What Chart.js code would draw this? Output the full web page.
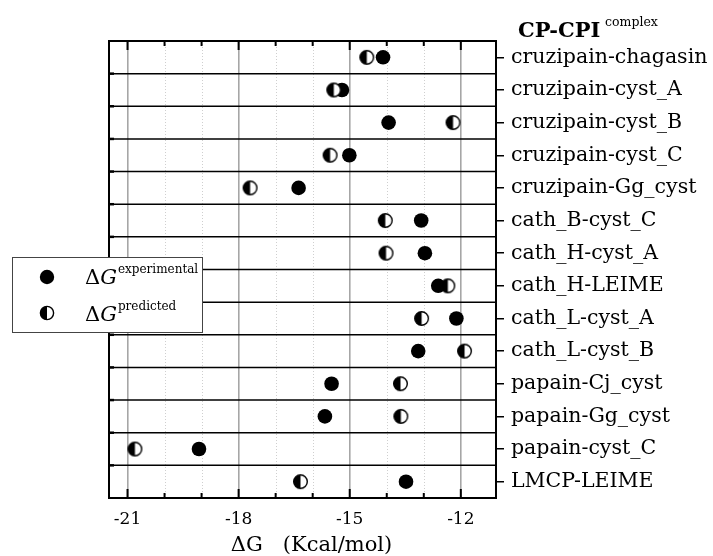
<!DOCTYPE html>
<html>
<head>
<meta charset="utf-8">
<script src="https://cdn.jsdelivr.net/npm/chart.js@4.4.1/dist/chart.umd.min.js"></script>
<style>
  html, body { margin: 0; padding: 0; background: #fff; }
  #wrap { width: 713px; height: 556px; }
</style>
</head>
<body>
<div id="wrap"><canvas id="c" width="713" height="556"></canvas></div>
<script>
// ---- data ----
const categories = [
  "cruzipain-chagasin", "cruzipain-cyst_A", "cruzipain-cyst_B", "cruzipain-cyst_C",
  "cruzipain-Gg_cyst", "cath_B-cyst_C", "cath_H-cyst_A", "cath_H-LEIME",
  "cath_L-cyst_A", "cath_L-cyst_B", "papain-Cj_cyst", "papain-Gg_cyst",
  "papain-cyst_C", "LMCP-LEIME"
];
const experimental = [-14.10, -15.21, -13.95, -15.01, -16.38, -13.07, -12.97, -12.61, -12.12, -13.15, -15.49, -15.67, -19.07, -13.48];
const predicted    = [-14.54, -15.43, -12.21, -15.53, -17.69, -14.04, -14.02, -12.35, -13.06, -11.90, -13.63, -13.62, -20.80, -16.33];
const xTickValues  = [-21, -20, -19, -18, -17, -16, -15, -14, -13, -12];
const xMajorTicks  = [-21, -18, -15, -12];

const SERIF = '"DejaVu Serif", serif';

// half-filled circle marker
function halfCircle(r) {
  const s = Math.ceil(r * 2 + 3);
  const cv = document.createElement('canvas');
  cv.width = s; cv.height = s;
  const g = cv.getContext('2d');
  const c = s / 2;
  g.beginPath(); g.arc(c, c, r, 0, Math.PI * 2); g.fillStyle = '#fff'; g.fill();
  g.beginPath(); g.moveTo(c, c - r); g.arc(c, c, r, -Math.PI / 2, Math.PI / 2, true); g.closePath();
  g.fillStyle = '#000'; g.fill();
  g.beginPath(); g.arc(c, c, r, 0, Math.PI * 2); g.lineWidth = 1.4; g.strokeStyle = '#000'; g.stroke();
  return cv;
}
const halfMarker = halfCircle(6.8);

function drawHalf(ctx, x, y, r) {
  ctx.save();
  ctx.beginPath(); ctx.arc(x, y, r, 0, Math.PI * 2); ctx.fillStyle = '#fff'; ctx.fill();
  ctx.beginPath(); ctx.moveTo(x, y - r); ctx.arc(x, y, r, -Math.PI / 2, Math.PI / 2, true); ctx.closePath();
  ctx.fillStyle = '#000'; ctx.fill();
  ctx.beginPath(); ctx.arc(x, y, r, 0, Math.PI * 2); ctx.lineWidth = 1.4; ctx.strokeStyle = '#000'; ctx.stroke();
  ctx.restore();
}

const framePlugin = {
  id: 'frame',
  beforeDatasetsDraw(chart) {
    const { ctx, chartArea: a, scales: { x, y } } = chart;
    ctx.save();
    // minor dotted grid
    ctx.strokeStyle = '#cfcfcf'; ctx.lineWidth = 1; ctx.setLineDash([1, 2]);
    xTickValues.forEach(v => {
      if (xMajorTicks.includes(v)) return;
      const px = Math.round(x.getPixelForValue(v)) + 0.5;
      ctx.beginPath(); ctx.moveTo(px, a.top); ctx.lineTo(px, a.bottom); ctx.stroke();
    });
    ctx.setLineDash([]);
    // row separators
    ctx.strokeStyle = '#000'; ctx.lineWidth = 1.5;
    for (let i = 0; i < categories.length - 1; i++) {
      const py = (y.getPixelForValue(i) + y.getPixelForValue(i + 1)) / 2;
      ctx.beginPath(); ctx.moveTo(a.left, py); ctx.lineTo(a.right, py); ctx.stroke();
      ctx.lineWidth = 2.5;
      ctx.beginPath(); ctx.moveTo(a.left, py); ctx.lineTo(a.left + 5, py); ctx.stroke();
      ctx.lineWidth = 1.5;
    }
    // frame
    ctx.lineWidth = 2; ctx.strokeStyle = '#000';
    ctx.strokeRect(a.left, a.top, a.right - a.left, a.bottom - a.top);
    // inward ticks top and bottom
    xTickValues.forEach(v => {
      const px = x.getPixelForValue(v);
      const len = xMajorTicks.includes(v) ? 9 : 5;
      ctx.beginPath(); ctx.moveTo(px, a.top); ctx.lineTo(px, a.top + len); ctx.stroke();
      ctx.beginPath(); ctx.moveTo(px, a.bottom); ctx.lineTo(px, a.bottom - len); ctx.stroke();
    });
    ctx.restore();
  },
  afterDraw(chart) {
    const { ctx, chartArea: a } = chart;
    ctx.save();
    // axis title
    ctx.fillStyle = '#000'; ctx.textBaseline = 'alphabetic';
    ctx.font = '21px ' + SERIF; ctx.textAlign = 'center';
    ctx.fillText('\u0394G   (Kcal/mol)', (a.left + a.right) / 2 + 9, 551);
    // top-right title
    ctx.textAlign = 'left';
    ctx.font = 'bold 21px ' + SERIF;
    ctx.fillText('CP-CPI', 518, 37);
    ctx.font = '12.5px ' + SERIF;
    ctx.fillText('complex', 605, 26);
    // legend box
    ctx.fillStyle = '#fff';
    ctx.fillRect(12.5, 257.5, 190, 75);
    ctx.strokeStyle = '#444'; ctx.lineWidth = 1;
    ctx.strokeRect(12.5, 257.5, 190, 75);
    ctx.fillStyle = '#000';
    ctx.beginPath(); ctx.arc(47, 277, 7.2, 0, Math.PI * 2); ctx.fill();
    drawHalf(ctx, 47, 313, 6.6);
    const rows = [[284, 'experimental'], [321, 'predicted']];
    rows.forEach(([by, sup]) => {
      ctx.fillStyle = '#000';
      ctx.font = '21px ' + SERIF;
      ctx.fillText('\u0394', 85, by);
      const dw = ctx.measureText('\u0394').width;
      ctx.font = 'italic 21px ' + SERIF;
      ctx.fillText('G', 85 + dw, by);
      const gw = ctx.measureText('G').width;
      ctx.font = '12px ' + SERIF;
      ctx.fillText(sup, 85 + dw + gw + 1, by - 11);
    });
    ctx.restore();
  }
};

new Chart(document.getElementById('c'), {
  type: 'scatter',
  data: {
    labels: categories,
    datasets: [
      {
        label: '\u0394G predicted',
        data: categories.map((c, i) => ({ x: predicted[i], y: c })),
        pointStyle: halfMarker,
        pointRadius: 7,
        order: 0
      },
      {
        label: '\u0394G experimental',
        data: categories.map((c, i) => ({ x: experimental[i], y: c })),
        pointStyle: 'circle',
        pointRadius: 7.3,
        pointBackgroundColor: '#000',
        pointBorderWidth: 0,
        backgroundColor: '#000',
        borderColor: '#000',
        order: 1
      }
    ]
  },
  options: {
    responsive: false,
    animation: false,
    devicePixelRatio: 1,
    layout: { padding: { left: 109, top: 41, right: 0, bottom: 0 } },
    plugins: { legend: { display: false }, tooltip: { enabled: false }, title: { display: false } },
    scales: {
      x: {
        type: 'linear',
        position: 'bottom',
        min: -21.5,
        max: -11.05,
        afterBuildTicks: s => { s.ticks = xTickValues.map(v => ({ value: v })); },
        afterFit: s => { s.height = 58; },
        border: { display: false },
        grid: {
          drawTicks: false,
          color: c => (c.tick && xMajorTicks.includes(c.tick.value)) ? '#a6a6a6' : 'rgba(0,0,0,0)',
          lineWidth: 1.6
        },
        ticks: {
          autoSkip: false,
          maxRotation: 0,
          padding: 11,
          color: '#000',
          font: { family: SERIF, size: 17 },
          callback: v => xMajorTicks.includes(v) ? String(v) : ''
        }
      },
      y: {
        type: 'category',
        position: 'right',
        labels: categories,
        offset: true,
        afterFit: s => { s.width = 217; },
        border: { display: false },
        grid: {
          offset: false,
          drawOnChartArea: false,
          drawTicks: true,
          tickLength: 8,
          color: '#000',
          lineWidth: 1.5
        },
        ticks: {
          autoSkip: false,
          padding: 7,
          color: '#000',
          font: { family: SERIF, size: 20.5 }
        }
      }
    }
  },
  plugins: [framePlugin]
});
</script>
</body>
</html>
